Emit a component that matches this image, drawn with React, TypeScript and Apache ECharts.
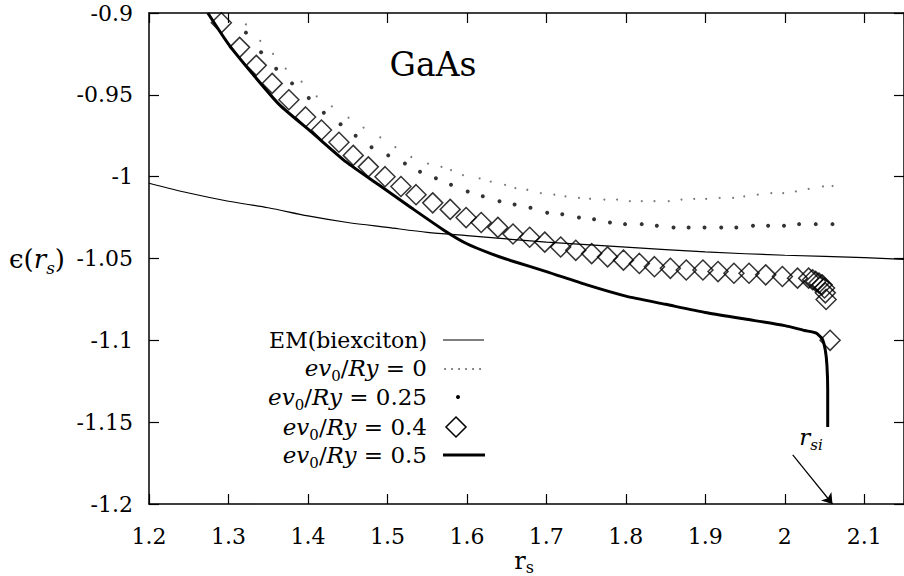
import React, { useEffect, useRef } from "react";
import * as echarts from "echarts";

// EM (biexciton) — thin solid line
const emX = [1.2, 1.25, 1.3, 1.35, 1.4, 1.45, 1.5, 1.55, 1.6, 1.7, 1.8, 1.9, 2.0, 2.1, 2.15];
const emY = [-1.004, -1.010, -1.015, -1.019, -1.024, -1.028, -1.031, -1.034, -1.036, -1.040, -1.043, -1.046, -1.048, -1.0495, -1.0505];

// ev0/Ry = 0 — tiny dots
const v0X = [1.305, 1.322, 1.340, 1.356, 1.372, 1.392, 1.411, 1.430, 1.451, 1.470, 1.491, 1.510, 1.530, 1.551, 1.568, 1.580, 1.595, 1.616, 1.630, 1.648, 1.661, 1.676, 1.693, 1.710, 1.724, 1.741, 1.755, 1.773, 1.789, 1.805, 1.820, 1.836, 1.854, 1.870, 1.886, 1.901, 1.918, 1.935, 1.949, 1.966, 1.983, 1.998, 2.014, 2.030, 2.048, 2.060];
const v0Y = [-0.899, -0.907, -0.917, -0.925, -0.934, -0.942, -0.951, -0.957, -0.964, -0.970, -0.976, -0.982, -0.988, -0.992, -0.994, -0.996, -0.999, -1.001, -1.003, -1.005, -1.007, -1.008, -1.010, -1.011, -1.012, -1.013, -1.0135, -1.014, -1.014, -1.015, -1.015, -1.015, -1.015, -1.014, -1.0136, -1.0136, -1.013, -1.013, -1.012, -1.011, -1.010, -1.010, -1.009, -1.0075, -1.006, -1.0057];

// ev0/Ry = 0.25 — dots
const v25X = [1.322, 1.341, 1.360, 1.380, 1.401, 1.420, 1.441, 1.460, 1.480, 1.501, 1.522, 1.541, 1.561, 1.580, 1.601, 1.620, 1.641, 1.660, 1.680, 1.701, 1.720, 1.741, 1.760, 1.780, 1.799, 1.820, 1.839, 1.860, 1.879, 1.899, 1.920, 1.939, 1.960, 1.979, 1.999, 2.018, 2.039, 2.060];
const v25Y = [-0.912, -0.924, -0.934, -0.943, -0.952, -0.961, -0.968, -0.975, -0.982, -0.987, -0.992, -0.997, -1.001, -1.005, -1.009, -1.012, -1.015, -1.017, -1.019, -1.022, -1.023, -1.025, -1.026, -1.028, -1.029, -1.029, -1.030, -1.031, -1.031, -1.031, -1.031, -1.031, -1.030, -1.030, -1.030, -1.029, -1.029, -1.029];

// ev0/Ry = 0.4 — diamonds
const v40X = [1.291, 1.314, 1.335, 1.355, 1.376, 1.397, 1.417, 1.439, 1.457, 1.476, 1.497, 1.517, 1.536, 1.557, 1.579, 1.599, 1.618, 1.639, 1.658, 1.679, 1.698, 1.718, 1.737, 1.757, 1.777, 1.797, 1.817, 1.836, 1.856, 1.876, 1.897, 1.916, 1.936, 1.955, 1.976, 1.997, 2.016, 2.030, 2.035, 2.039, 2.043, 2.047, 2.050, 2.051, 2.052, 2.057];
const v40Y = [-0.906, -0.921, -0.932, -0.943, -0.953, -0.9635, -0.9715, -0.979, -0.987, -0.994, -1.000, -1.006, -1.011, -1.016, -1.020, -1.025, -1.028, -1.031, -1.035, -1.037, -1.040, -1.043, -1.045, -1.047, -1.049, -1.051, -1.053, -1.055, -1.056, -1.057, -1.057, -1.058, -1.059, -1.059, -1.060, -1.061, -1.062, -1.062, -1.063, -1.064, -1.065, -1.066, -1.068, -1.071, -1.075, -1.100];

// ev0/Ry = 0.5 — thick line
const v50X = [1.274, 1.30, 1.33, 1.364, 1.405, 1.448, 1.489, 1.530, 1.572, 1.60, 1.63, 1.66, 1.70, 1.75, 1.80, 1.85, 1.90, 1.95, 2.00, 2.025, 2.039, 2.047, 2.051, 2.053, 2.054, 2.054];
const v50Y = [-0.900, -0.919, -0.937, -0.956, -0.973, -0.991, -1.005, -1.019, -1.033, -1.041, -1.047, -1.052, -1.058, -1.066, -1.073, -1.078, -1.083, -1.087, -1.091, -1.094, -1.0955, -1.099, -1.106, -1.115, -1.130, -1.153];

// r_si arrow (data coordinates)
const arrowFrom = [2.01, -1.17];
const arrowTo = [2.06, -1.2];

const legendLabels = ["EM(biexciton)", "0", "0.25", "0.4", "0.5"];

const FONT = "DejaVu Serif";

const zip = (xs: number[], ys: number[]) => xs.map((x, i) => [x, ys[i]]);

export default function App() {
  const ref = useRef<HTMLDivElement>(null);
  useEffect(() => {
    const chart = echarts.init(ref.current!, null, { renderer: "svg" });
    const axisLine = { show: true, onZero: false, lineStyle: { color: "#000", width: 1.5 } };
    const axisTick = { show: true, inside: true, length: 10, lineStyle: { color: "#000", width: 1.2 } };
    const lbl = { color: "#000", fontSize: 22, fontFamily: FONT };

    const richMath = {
      it: { fontFamily: FONT, fontStyle: "italic", fontSize: 23, color: "#000", lineHeight: 30, verticalAlign: "middle" },
      rm: { fontFamily: FONT, fontSize: 23, color: "#000", lineHeight: 30 },
      sub: { fontFamily: FONT, fontSize: 15, color: "#000", lineHeight: 16, verticalAlign: "bottom" },
    };
    const richTitle = {
      it: { fontFamily: FONT, fontStyle: "italic", fontSize: 26, color: "#000", lineHeight: 34, verticalAlign: "middle" },
      rm: { fontFamily: FONT, fontSize: 26, color: "#000", lineHeight: 34 },
      sub: { fontFamily: FONT, fontStyle: "italic", fontSize: 17, color: "#000", lineHeight: 18, verticalAlign: "bottom" },
    };

    const legendX = 427;
    const rows = [340, 368, 397, 427, 455];
    const graphic: any[] = [];
    graphic.push({
      type: "text", x: legendX, y: rows[0],
      style: { text: legendLabels[0], fontFamily: FONT, fontSize: 22, fill: "#000", align: "right", verticalAlign: "middle" },
    });
    for (let i = 1; i < 5; i++) {
      graphic.push({
        type: "text", x: legendX, y: rows[i],
        style: {
          text: `{it|ev}{sub|0}{rm|/}{it|Ry}{rm| = ${legendLabels[i]}}`,
          rich: richMath, align: "right", verticalAlign: "middle",
        },
      });
    }
    // legend samples
    graphic.push({ type: "line", shape: { x1: 443, y1: rows[0], x2: 484, y2: rows[0] }, style: { stroke: "#000", lineWidth: 1.2 } });
    [445, 452, 459, 466, 473, 480].forEach((cx) =>
      graphic.push({ type: "circle", shape: { cx, cy: rows[1] + 1, r: 0.9 }, style: { fill: "#555" } })
    );
    graphic.push({ type: "circle", shape: { cx: 458, cy: rows[2], r: 2 }, style: { fill: "#000" } });
    graphic.push({
      type: "polygon",
      shape: { points: [[456, rows[3] - 10], [466, rows[3]], [456, rows[3] + 10], [446, rows[3]]] },
      style: { fill: "none", stroke: "#000", lineWidth: 1.5 },
    });
    graphic.push({ type: "line", shape: { x1: 443, y1: rows[4], x2: 485, y2: rows[4] }, style: { stroke: "#000", lineWidth: 3 } });

    // GaAs
    graphic.push({
      type: "text", x: 433, y: 64,
      style: { text: "GaAs", fontFamily: FONT, fontSize: 33, fill: "#000", align: "center", verticalAlign: "middle" },
    });
    // y-axis title
    graphic.push({
      type: "text", x: 9, y: 259,
      style: {
        text: "{rm|\u03f5(}{it|r}{sub|s}{rm|)}",
        rich: richTitle, align: "left", verticalAlign: "middle",
      },
    });
    // x-axis title
    graphic.push({
      type: "text", x: 524, y: 561,
      style: {
        text: "{rm|r}{sub|s}",
        rich: { rm: { fontFamily: FONT, fontSize: 24, color: "#000", lineHeight: 28 }, sub: { fontFamily: FONT, fontSize: 16, color: "#000", lineHeight: 15, verticalAlign: "bottom" } },
        align: "center", verticalAlign: "middle",
      },
    });
    // r_si
    graphic.push({
      type: "text", x: 811, y: 437,
      style: {
        text: "{it|r}{sub|si}",
        rich: { it: richMath.it, sub: { fontFamily: FONT, fontStyle: "italic", fontSize: 15, color: "#000", lineHeight: 16, verticalAlign: "bottom" } },
        align: "center", verticalAlign: "middle",
      },
    });

    chart.setOption({
      animation: false,
      backgroundColor: "#fff",
      textStyle: { fontFamily: FONT },
      grid: { left: 149, top: 13, bottom: 72, right: -5, containLabel: false },
      xAxis: [
        { type: "value", min: 1.2, max: 2.15, interval: 0.1, position: "bottom", axisLine, axisTick, axisLabel: { ...lbl, margin: 21, showMaxLabel: false }, splitLine: { show: false } },
        { type: "value", min: 1.2, max: 2.15, interval: 0.1, position: "top", axisLine, axisTick, axisLabel: { show: false }, splitLine: { show: false } },
      ],
      yAxis: [
        { type: "value", min: -1.2, max: -0.9, interval: 0.05, position: "left", axisLine, axisTick, axisLabel: { ...lbl, margin: 16 }, splitLine: { show: false } },
        { type: "value", min: -1.2, max: -0.9, interval: 0.05, position: "right", axisLine, axisTick, axisLabel: { show: false }, splitLine: { show: false } },
      ],
      series: [
        {
          name: "EM(biexciton)", type: "line", data: zip(emX, emY), showSymbol: false, symbol: "none", smooth: 0.3,
          lineStyle: { color: "#000", width: 1.2 },
        },
        {
          name: "ev0/Ry = 0", type: "scatter", data: zip(v0X, v0Y), symbol: "circle", symbolSize: 2,
          itemStyle: { color: "#555" },
        },
        {
          name: "ev0/Ry = 0.25", type: "scatter", data: zip(v25X, v25Y), symbol: "circle", symbolSize: 4,
          itemStyle: { color: "#000" },
        },
        {
          name: "ev0/Ry = 0.4", type: "scatter", data: zip(v40X, v40Y), symbol: "diamond", symbolSize: 20,
          itemStyle: { color: "rgba(0,0,0,0)", borderColor: "#000", borderWidth: 1.5 },
        },
        {
          name: "ev0/Ry = 0.5", type: "line", data: zip(v50X, v50Y), showSymbol: false, symbol: "none", smooth: 0.2,
          lineStyle: { color: "#000", width: 3 },
          markLine: {
            silent: true, symbol: ["none", "arrow"], symbolSize: 10,
            label: { show: false },
            lineStyle: { color: "#000", width: 1.2, type: "solid" },
            data: [[{ coord: arrowFrom }, { coord: arrowTo }]],
          },
        },
      ],
      graphic,
    });
    return () => chart.dispose();
  }, []);
  return (
    <div
      ref={ref}
      style={{ position: "fixed", left: 0, top: 0, width: 904, height: 576, background: "#fff" }}
    />
  );
}
